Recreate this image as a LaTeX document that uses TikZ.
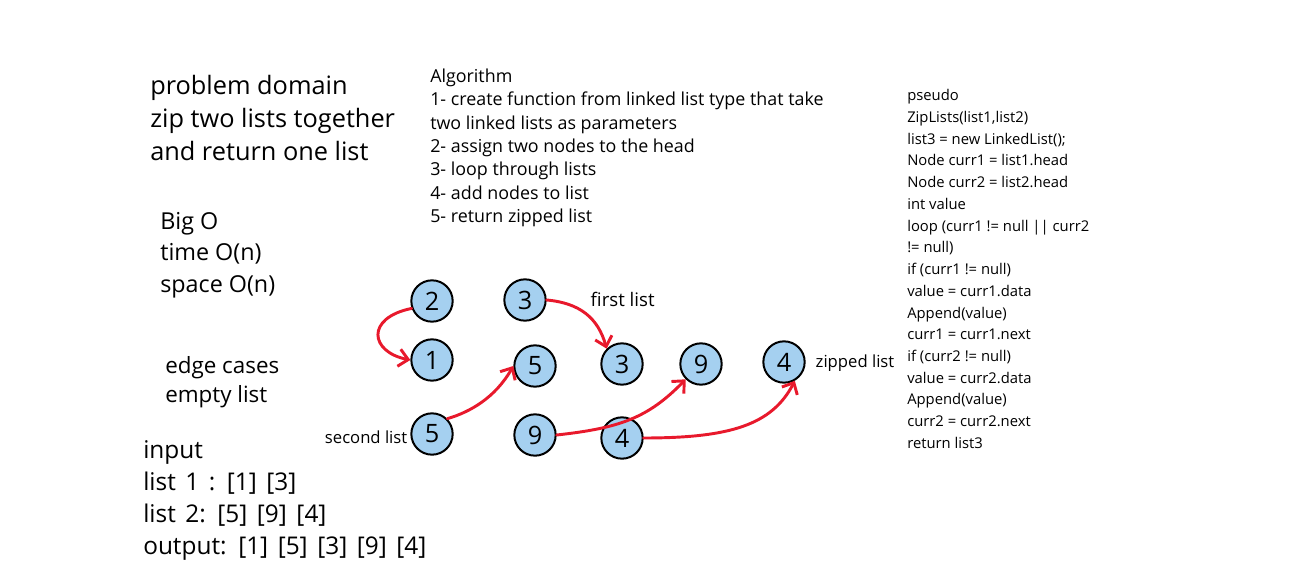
\documentclass[tikz,border=0pt]{standalone}
\usepackage{fontspec}
\setmainfont{Open Sans}
\newfontfamily\widefont[WordSpace=1.5]{Open Sans}
\usepackage{xcolor}
\usetikzlibrary{arrows.meta, positioning}

\definecolor{nodeblue}{HTML}{A5D0F0}
\definecolor{linkred}{HTML}{E8192C}

\begin{document}
\begin{tikzpicture}[x=0.75pt, y=-0.75pt,
  item/.style={circle, draw=black, line width=1.5pt, fill=nodeblue,
    minimum size=31pt, inner sep=0pt, font=\fontsize{19}{19}\selectfont},
  link/.style={draw=linkred, line width=2.2pt, line cap=round,
    -{Straight Barb[length=7pt, width=13pt, line width=2.2pt]}},
  txt/.style={anchor=west, inner sep=0pt}]
  % page frame
  \useasboundingbox (0,0) rectangle (1302,581);

  % left notes
  \node[txt, align=left, font=\fontsize{19}{24.4}\selectfont] (domain) at (150,118)
    {problem domain\\zip two lists together\\and return one list};
  \node[txt, align=left, font=\fontsize{17.5}{23.6}\selectfont] (bigo) at (160,255)
    {Big O\\time O(n)\\space O(n)};
  \node[txt, align=left, font=\fontsize{16.8}{21.8}\selectfont] (edges) at (165,382)
    {edge cases\\empty list};
  \node[txt, align=left, font=\widefont\fontsize{18.3}{24}\selectfont] (io) at (143,500)
    {input\\list 1 : [1] [3]\\list 2: [5] [9] [4]\\output: [1] [5] [3] [9] [4]};

  % algorithm steps
  \node[txt, align=left, font=\fontsize{13.4}{17.5}\selectfont] (algo) at (430,148)
    {Algorithm\\1- create function from linked list type that take\\two linked lists as parameters\\2- assign two nodes to the head\\3- loop through lists\\4- add nodes to list\\5- return zipped list};

  % pseudo code
  \node[txt, align=left, font=\fontsize{11.1}{16.3}\selectfont] (pseudo) at (907,269)
    {pseudo\\ZipLists(list1,list2)\\list3 = new LinkedList();\\Node curr1 = list1.head\\Node curr2 = list2.head\\int value\\loop (curr1 != null || curr2\\!= null)\\if (curr1 != null)\\value = curr1.data\\Append(value)\\curr1 = curr1.next\\if (curr2 != null)\\value = curr2.data\\Append(value)\\curr2 = curr2.next\\return list3};

  % first list
  \node[item] (a2) at (432,301) {2};
  \node[item] (a3) at (525,300) {3};
  \node[anchor=west, font=\fontsize{14}{14}\selectfont] (first) at (586,299) {first list};

  % zipped list
  \node[item] (z1) at (432,360) {1};
  \node[item] (z5) at (535,366) {5};
  \node[item] (z3) at (622,364) {3};
  \node[item] (z9) at (701,364) {9};
  \node[item] (z4) at (784,362) {4};
  \node[anchor=west, font=\fontsize{12.5}{12.5}\selectfont] (zipped) at (811,363) {zipped list};

  % second list
  \node[item] (b5) at (432,434) {5};
  \node[item] (b9) at (535,435) {9};
  \node[item] (b4) at (622,438) {4};
  \node[anchor=east, font=\fontsize{12.5}{12.5}\selectfont] (second) at (412,437) {second list};

  % links
  \draw[link] (a2.200) .. controls (365,318) and (370,352) .. (z1.west);
  \draw[link] (a3.east) .. controls (580,303) and (598,318) .. (z3.north west);
  \draw[link] (b5.north east) .. controls (470,412) and (495,398) .. (z5.west);
  \draw[link] (b9.east) .. controls (620,428) and (648,418) .. (z9.225);
  \draw[link] (b4.east) .. controls (730,438) and (772,425) .. (z4.300);
\end{tikzpicture}
\end{document}
